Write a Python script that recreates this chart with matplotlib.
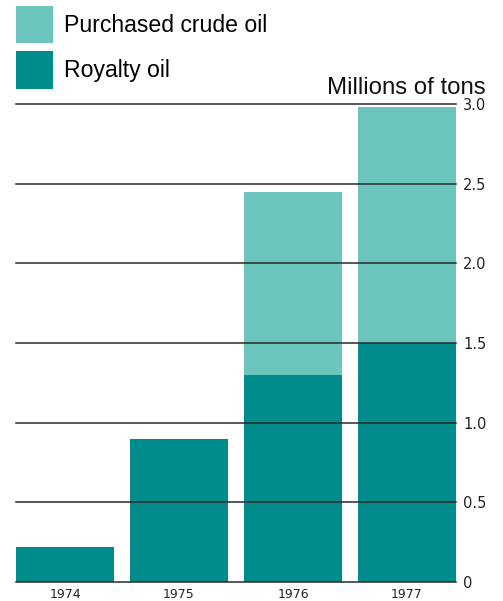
import numpy as np
import matplotlib
matplotlib.use('Agg')
import matplotlib.pyplot as plt

# oil volumes, millions of tons
years     = ['1974', '1975', '1976', '1977']
royalty   = [0.22, 0.90, 1.30, 1.50]
purchased = [0.00, 0.00, 1.15, 1.48]
yticks    = [0, 0.5, 1.0, 1.5, 2.0, 2.5, 3.0]
ytick_lbl = ['0', '0.5', '1.0', '1.5', '2.0', '2.5', '3.0']

C_ROY  = '#008b8d'
C_PUR  = '#6cc5bd'
C_GRID = '#2a2a2a'

fig = plt.figure(figsize=(5.03, 6.01), dpi=100)
ax = fig.add_axes([16/503, 19/601, 440/503, 478/601])

x = np.arange(len(years))
b_roy = ax.bar(x, royalty, width=0.86, color=C_ROY, label='Royalty oil', zorder=1)
b_pur = ax.bar(x, purchased, width=0.86, bottom=royalty, color=C_PUR,
               label='Purchased crude oil', zorder=1)

# horizontal rules drawn across the bars
for v in yticks:
    ax.axhline(v, color=C_GRID, lw=1.1, zorder=3, clip_on=False)

ax.set_xlim(-0.43, 3.43)
ax.set_ylim(0, 3.0)
for s in ax.spines.values():
    s.set_visible(False)

ax.yaxis.tick_right()
ax.set_yticks(yticks)
ax.set_yticklabels(ytick_lbl, fontsize=10.5, color='#222222', family='DejaVu Sans')
ax.set_xticks(x)
ax.set_xticklabels(years, fontsize=9, color='#222222', family='DejaVu Sans')
ax.tick_params(axis='y', length=0, pad=5)
ax.tick_params(axis='x', length=0, pad=4)

fig.text(486/503, 1 - 88/601, 'Millions of tons', ha='right', va='center',
         fontsize=17.3, family='Liberation Sans', color='#111111')

# big square swatches
fs = 16.6
leg = fig.legend([b_pur, b_roy], ['Purchased crude oil', 'Royalty oil'],
                 loc='upper left', bbox_to_anchor=(16/503, 1 - 6/601), frameon=False,
                 prop={'family': 'Liberation Sans', 'size': fs},
                 handlelength=1.62, handleheight=2.12, handletextpad=0.48,
                 labelspacing=0.35, borderpad=0.0, borderaxespad=0.0)

fig.savefig('out.png', dpi=100)
